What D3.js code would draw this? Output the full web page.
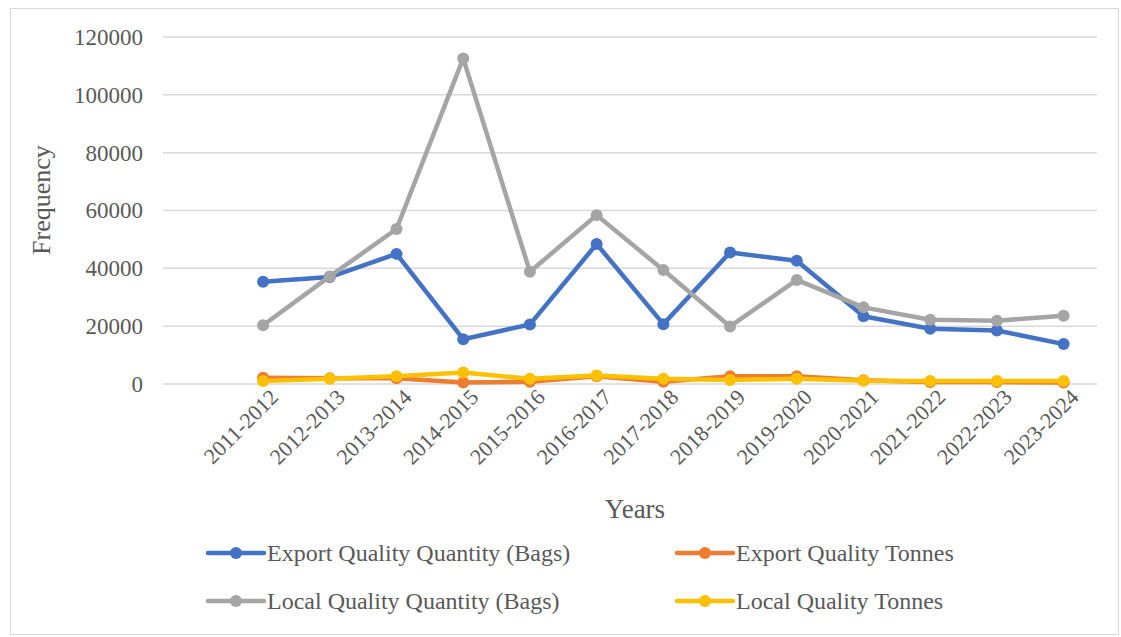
<!DOCTYPE html>
<html>
<head>
<meta charset="utf-8">
<script src="https://cdn.jsdelivr.net/npm/d3@7"></script>
<style>
  body { margin: 0; background: #fff; }
  svg text { font-family: "Liberation Serif", "Times New Roman", serif; fill: #595959; }
</style>
</head>
<body>
<svg width="1121" height="637"></svg>
<script>
const YEARS = ["2011-2012","2012-2013","2013-2014","2014-2015","2015-2016","2016-2017","2017-2018",
  "2018-2019","2019-2020","2020-2021","2021-2022","2022-2023","2023-2024"];
const EXPORT_BAGS = [35400,37000,45000,15500,20600,48400,20700,45500,42600,23400,19100,18500,13800];
const EXPORT_TONNES = [2200,2000,2000,500,800,2700,800,2700,2700,1300,700,700,500];
const LOCAL_BAGS = [20300,37200,53600,112600,38800,58400,39400,19900,36000,26500,22200,21900,23600];
const LOCAL_TONNES = [1000,1800,2700,4000,1800,2900,1800,1400,1800,1100,1000,1000,1000];
const Y_TICKS = [0,20000,40000,60000,80000,100000,120000];

const series = [
  {name:"Export Quality Quantity (Bags)", values:EXPORT_BAGS, color:"#4472C4"},
  {name:"Export Quality Tonnes", values:EXPORT_TONNES, color:"#ED7D31"},
  {name:"Local Quality Quantity (Bags)", values:LOCAL_BAGS, color:"#A5A5A5"},
  {name:"Local Quality Tonnes", values:LOCAL_TONNES, color:"#FFC000"}
];

const svg = d3.select("svg");

// outer chart border
svg.append("rect").attr("x",10.5).attr("y",8.5).attr("width",1108).attr("height",626)
  .attr("fill","none").attr("stroke","#D9D9D9");

const plotL = 163, plotR = 1097, plotT = 37, plotB = 384;

// leading blank slot, as in the original
const xScale = d3.scaleBand().domain([""].concat(YEARS)).range([plotL,plotR]);
const xc = d => xScale(d) + xScale.bandwidth()/2;
const yScale = d3.scaleLinear().domain([0,120000]).range([plotB,plotT]);

// gridlines
svg.append("g").selectAll("line").data(Y_TICKS).enter().append("line")
  .attr("x1",plotL).attr("x2",plotR)
  .attr("y1",d=>yScale(d)).attr("y2",d=>yScale(d))
  .attr("stroke","#D9D9D9").attr("stroke-width",1.5);

// y axis labels
const yAxis = svg.append("g").attr("transform",`translate(${plotL-20},0)`)
  .call(d3.axisLeft(yScale).tickValues(Y_TICKS).tickSize(0).tickPadding(0).tickFormat(d3.format("d")));
yAxis.select(".domain").remove();
yAxis.selectAll("text").attr("font-size",23).style("font-family","Liberation Serif").attr("fill","#595959");

// x axis labels, rotated
const xAxis = svg.append("g").attr("transform",`translate(0,${plotB})`)
  .call(d3.axisBottom(xScale).tickValues(YEARS).tickSize(0));
xAxis.select(".domain").remove();
xAxis.selectAll("text")
  .attr("font-size",22).style("font-family","Liberation Serif").attr("fill","#595959")
  .attr("text-anchor","end")
  .attr("transform","translate(11,9) rotate(-45)")
  .attr("dy","0.35em").attr("y",0).attr("x",0);

// axis titles
svg.append("text").attr("x",635).attr("y",518).attr("text-anchor","middle")
  .attr("font-size",27).text("Years");
svg.append("text").attr("transform","translate(50,200) rotate(-90)").attr("text-anchor","middle")
  .attr("font-size",26).text("Frequency");

// lines and markers
const line = d3.line().x((d,i)=>xc(YEARS[i])).y(d=>yScale(d));
series.forEach(s => {
  const g = svg.append("g");
  g.append("path").datum(s.values).attr("d",line)
    .attr("fill","none").attr("stroke",s.color).attr("stroke-width",4.5)
    .attr("stroke-linejoin","round");
  g.selectAll("circle").data(s.values).enter().append("circle")
    .attr("cx",(d,i)=>xc(YEARS[i])).attr("cy",d=>yScale(d)).attr("r",6)
    .attr("fill",s.color);
});

// legend
const legendPos = [[208,553],[677,553],[208,601],[677,601]];
series.forEach((s,i) => {
  const [lx,ly] = legendPos[i];
  const g = svg.append("g").attr("transform",`translate(${lx},${ly})`);
  g.append("line").attr("x1",0).attr("x2",56).attr("y1",0).attr("y2",0)
    .attr("stroke",s.color).attr("stroke-width",4.5).attr("stroke-linecap","round");
  g.append("circle").attr("cx",28).attr("cy",0).attr("r",6).attr("fill",s.color);
  g.append("text").attr("x",59).attr("y",0).attr("dy","0.35em").attr("font-size",24).text(s.name);
});
</script>
</body>
</html>
